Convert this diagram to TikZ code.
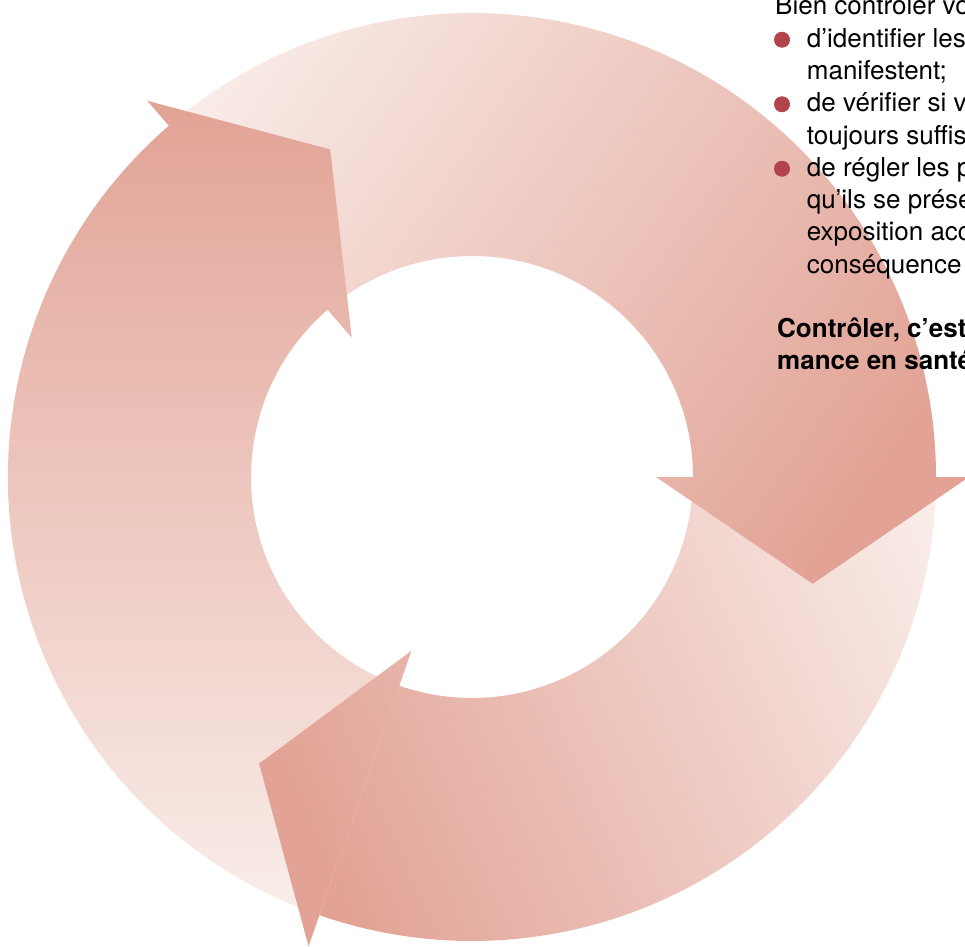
\documentclass[tikz,border=0pt]{standalone}
\usepackage{fontspec}
\setmainfont{TeX Gyre Heros}
\definecolor{pale}{RGB}{249,236,232}
\definecolor{dark}{RGB}{226,163,150}
\definecolor{bulletred}{RGB}{178,68,78}
\newcommand\gradfill[6]{%
  \begin{scope}[transform canvas={shift={(#1,#2)},rotate=#3}]
    \fill[#5] (-1500,-1500) rectangle (0.5,1500);
    \shade[left color=#5,right color=#6] (0,-1500) rectangle (#4,1500);
    \fill[#6] (#4-0.5,-1500) rectangle (1500,1500);
  \end{scope}}
\tikzset{
  txt/.style={anchor=base west, inner sep=0pt, text=black, font=\fontsize{26}{32}\selectfont},
  btxt/.style={txt, font=\fontsize{26}{32}\selectfont\bfseries},
  bulletdot/.style={fill=bulletred}
}
\begin{document}
\begin{tikzpicture}[x=1pt,y=1pt]
\useasboundingbox (-472,-469) rectangle (493,477);
\clip (-472,-469) rectangle (493,477);
% shafts
\begin{scope}
  \clip (130.8:464) arc[start angle=130.8, end angle=-1, radius=464] -- (-1:221) arc[start angle=-1, end angle=130.8, radius=221] -- cycle;
  \gradfill{-272}{387}{-35.5}{774}{pale}{dark}
\end{scope}
\begin{scope}
  \clip (360:464) arc[start angle=360, end angle=249.8, radius=464] -- (249.8:221) arc[start angle=249.8, end angle=360, radius=221] -- cycle;
  \gradfill{458}{-43}{204}{689}{pale}{dark}
\end{scope}
\begin{scope}
  \clip (250.8:464) arc[start angle=250.8, end angle=129.8, radius=464] -- (129.8:221) arc[start angle=129.8, end angle=250.8, radius=221] -- cycle;
  \gradfill{-272}{-423}{90}{800}{pale}{dark}
\end{scope}
% heads
\begin{scope}
  \clip (0:497) -- (-17.4:357) -- (0:184) -- cycle;
  \gradfill{-272}{387}{-35.5}{774}{pale}{dark}
\end{scope}
\begin{scope}
  \clip (250.8:497) -- (233.4:357) -- (250.8:184) -- cycle;
  \gradfill{458}{-43}{204}{689}{pale}{dark}
\end{scope}
\begin{scope}
  \clip (130.8:497) -- (113.4:357) -- (130.8:184) -- cycle;
  \gradfill{-272}{-423}{90}{800}{pale}{dark}
\end{scope}
% text
\node[txt] (t1) at (303,462) {Bien contrôler vo};
\fill[bulletdot] (310,437.25) circle (8);
\node[txt] (t2) at (334.7,429.75) {d’identifier les};
\node[txt] (t3) at (334.7,397.5) {manifestent;};
\fill[bulletdot] (310,372.75) circle (8);
\node[txt] (t4) at (334.7,365.25) {de vérifier si v};
\node[txt] (t5) at (334.7,333) {toujours suffis};
\fill[bulletdot] (310,308.25) circle (8);
\node[txt] (t6) at (334.7,300.75) {de régler les p};
\node[txt] (t7) at (334.7,268.5) {qu’ils se prése};
\node[txt] (t8) at (334.7,236.25) {exposition acc};
\node[txt] (t9) at (334.7,204) {conséquence};
\node[btxt] (t10) at (305,140) {Contrôler, c’est};
\node[btxt] (t11) at (305,107.5) {mance en santé};
\end{tikzpicture}
\end{document}
